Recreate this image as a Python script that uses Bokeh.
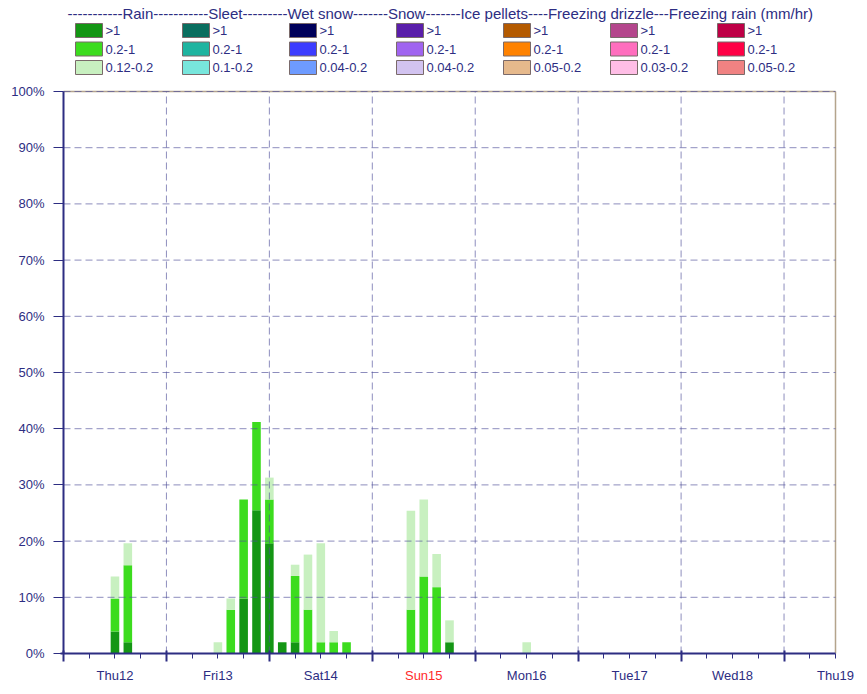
from bokeh.plotting import figure
from bokeh.models import (Range1d, FixedTicker, PrintfTickFormatter, ColumnDataSource,
                          LinearAxis)
from bokeh.core.properties import value
from bokeh.embed import file_html
from bokeh.resources import INLINE

# ---------------- data ----------------
# bar times: hours after Thu12 00:00 (3-hourly steps)
hours = [12, 15, 36, 39, 42, 45, 48, 51, 54, 57, 60, 63, 66, 81, 84, 87, 90, 108]
# probability (%) of rain intensity classes (mm/hr)
rain_gt1 = [3.9, 2.0, 0, 0, 9.8, 25.5, 19.6, 2.0, 2.0, 0, 0, 0, 0, 0, 0, 0, 2.0, 0]
rain_02_1 = [5.9, 13.7, 0, 7.8, 17.6, 15.7, 7.8, 0, 11.8, 7.8, 2.0, 2.0, 2.0, 7.8, 13.7, 11.8, 0, 0]
rain_012_02 = [3.9, 3.9, 2.0, 2.0, 0, 0, 3.9, 0, 2.0, 9.8, 17.6, 2.0, 0, 17.6, 13.7, 5.9, 3.9, 2.0]

day_labels = ["Thu12", "Fri13", "Sat14", "Sun15", "Mon16", "Tue17", "Wed18", "Thu19"]
day_label_hours = [12, 36, 60, 84, 108, 132, 156, 180]
day_midnights = [0, 24, 48, 72, 96, 120, 144, 168]
six_hours = list(range(0, 181, 6))
y_ticks = [0, 10, 20, 30, 40, 50, 60, 70, 80, 90, 100]
x_end = 180
y_end = 100

legend_categories = ["Rain", "Sleet", "Wet snow", "Snow", "Ice pellets",
                     "Freezing drizzle", "Freezing rain"]
legend_ranges = [
    [">1", "0.2-1", "0.12-0.2"],
    [">1", "0.2-1", "0.1-0.2"],
    [">1", "0.2-1", "0.04-0.2"],
    [">1", "0.2-1", "0.04-0.2"],
    [">1", "0.2-1", "0.05-0.2"],
    [">1", "0.2-1", "0.03-0.2"],
    [">1", "0.2-1", "0.05-0.2"],
]
legend_colors = [
    ["#149614", "#3cdc1e", "#c8f0c0"],
    ["#0a6e5f", "#1eb4a0", "#78e6dc"],
    ["#00005a", "#3c3cff", "#6e9bff"],
    ["#5a1eaa", "#a064f0", "#d2c3f0"],
    ["#b45a00", "#ff8200", "#e6b98c"],
    ["#b4468c", "#ff6ebe", "#ffbee6"],
    ["#be0046", "#ff0046", "#f08282"],
]
header = ("-----------Rain-----------Sleet---------Wet snow-------Snow-------"
          "Ice pellets----Freezing drizzle---Freezing rain (mm/hr)")

# ---------------- layout / styling ----------------
NAVY = "#2d2d82"
RED = "#ff2a2a"
GRID = "#50509a"
TAN = "#b4a48c"
FONT = "Liberation Sans"
W, H = 867, 694
FL, FR, FT, FB = 63, 835, 91, 653   # chart area edges in canvas pixels


def px_x(px):
    return (px - FL) / (FR - FL) * x_end


def px_y(py):
    return (FB - py) / (FB - FT) * y_end


# the frame covers the whole canvas so that legend and labels are not clipped
p = figure(width=W, height=H, x_range=Range1d(px_x(0), px_x(W)),
           y_range=Range1d(px_y(H), px_y(0)),
           output_backend="svg", toolbar_location=None, min_border=0,
           outline_line_color=None)
p.grid.visible = False

# bars
src = ColumnDataSource(dict(t=hours, gt1=rain_gt1, mid=rain_02_1, low=rain_012_02))
p.vbar_stack(["gt1", "mid", "low"], x="t", width=2.0, source=src,
             fill_color=legend_colors[0], line_color=None)

# chart border (top / right)
p.segment(x0=[0, x_end], y0=[y_end, 0], x1=[x_end, x_end], y1=[y_end, y_end],
          line_color=TAN, line_width=1.5)

# dashed grid lines (drawn over the bars)
hg = y_ticks[1:]
p.segment(x0=[0] * len(hg), y0=hg, x1=[x_end] * len(hg), y1=hg,
          line_color=GRID, line_alpha=0.65, line_dash="7 4", line_width=1)
vg = day_midnights[1:]
p.segment(x0=vg, y0=[0] * len(vg), x1=vg, y1=[y_end] * len(vg),
          line_color=GRID, line_alpha=0.65, line_dash="7 4", line_width=1)

# x axis: 6-hourly small ticks
xa = p.xaxis[0]
xa.fixed_location = 0
xa.bounds = (px_x(60), x_end)
xa.ticker = FixedTicker(ticks=[], minor_ticks=six_hours)
xa.axis_line_color = NAVY
xa.axis_line_width = 2
xa.major_tick_line_color = None
xa.minor_tick_line_color = NAVY
xa.minor_tick_in = 0
xa.minor_tick_out = 5

# day-boundary ticks
xd = LinearAxis(fixed_location=0, bounds=(0, x_end),
                ticker=FixedTicker(ticks=[], minor_ticks=day_midnights),
                axis_line_color=None, major_tick_line_color=None,
                minor_tick_line_color=NAVY, minor_tick_line_width=2,
                minor_tick_in=3, minor_tick_out=8)
p.add_layout(xd, "below")

# day labels
p.text(x=day_label_hours, y=[px_y(675)] * len(day_labels), text=day_labels,
       text_color=[RED if d.startswith("Sun") else NAVY for d in day_labels],
       text_font=value(FONT), text_font_size="13px",
       text_align="center", text_baseline="middle")

# y axis
ya = p.yaxis[0]
ya.fixed_location = 0
ya.bounds = (0, y_end)
ya.ticker = FixedTicker(ticks=y_ticks)
ya.formatter = PrintfTickFormatter(format="%d%%")
ya.axis_line_color = NAVY
ya.axis_line_width = 2
ya.major_tick_line_color = NAVY
ya.major_tick_in = 0
ya.major_tick_out = 10
ya.minor_tick_line_color = None
ya.major_label_standoff = 9
ya.major_label_text_font = FONT
ya.major_label_text_font_size = "13px"
ya.major_label_text_color = NAVY

# legend header
p.text(x=[px_x(67)], y=[px_y(13.3)], text=[header], text_font=value(FONT),
       text_font_size="15px", text_color=NAVY,
       text_align="left", text_baseline="middle")

# legend swatches and labels
row_y = [30, 48.5, 67]
sx, sy, sc, lx, ly, lt = [], [], [], [], [], []
for i, cat in enumerate(legend_categories):
    x0 = 75 + 107 * i
    for j in range(3):
        sx.append(px_x(x0 + 13.5))
        sy.append(px_y(row_y[j]))
        sc.append(legend_colors[i][j])
        lx.append(px_x(x0 + 30))
        ly.append(px_y(row_y[j]))
        lt.append(legend_ranges[i][j])
p.rect(x=sx, y=sy, width=27, height=14, width_units="screen", height_units="screen",
       fill_color=sc, line_color="#7a6a6a", line_width=1)
p.text(x=lx, y=ly, text=lt, text_color=NAVY, text_font=value(FONT),
       text_font_size="13px", text_align="left", text_baseline="middle")

open("out.html", "w").write(file_html(p, INLINE))
